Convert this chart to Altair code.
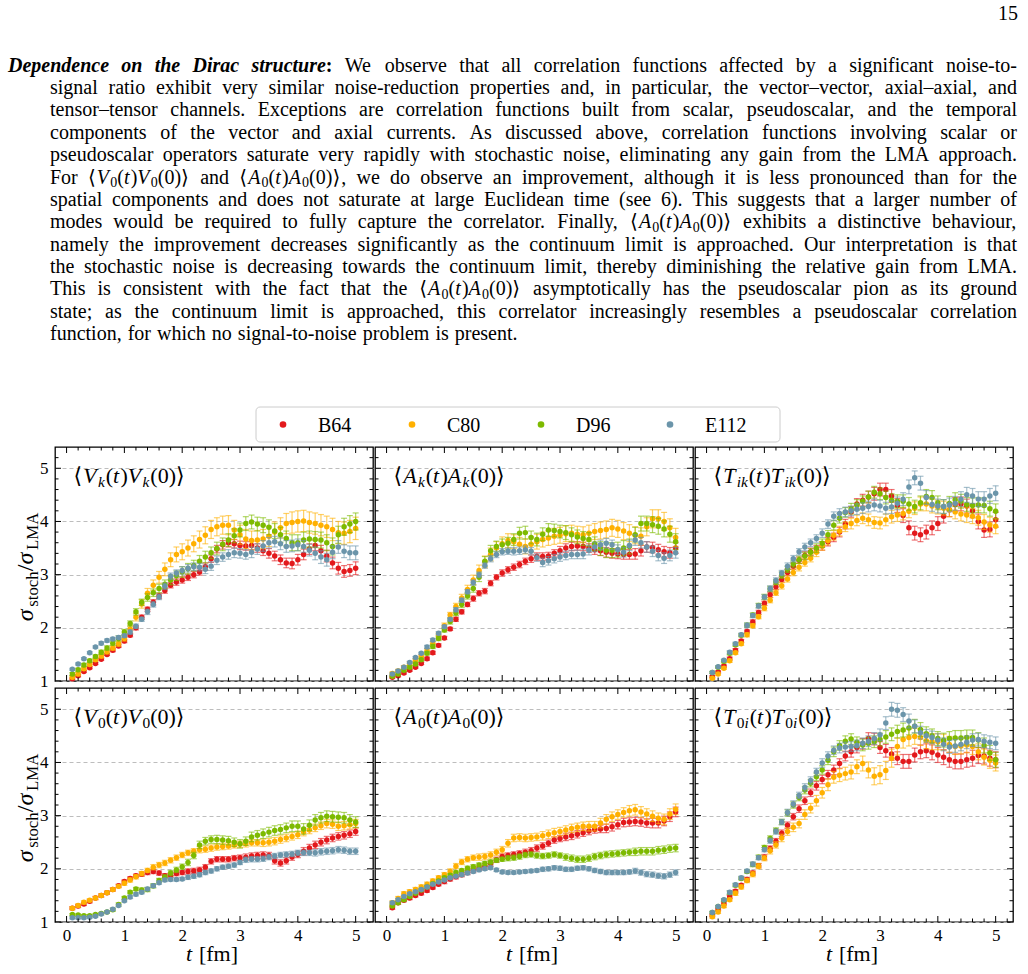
import altair as alt
import numpy as np
import pandas as pd

FONT = "Liberation Serif, DejaVu Serif, serif"

SERIES = ["B64", "C80", "D96", "E112"]
COLORS = ["#e3191c", "#ffb000", "#7dba00", "#6b95aa"]

# Euclidean time slices (fm)
T_FM = [round(0.1 * k, 1) for k in range(1, 51)]

# ---------------------------------------------------------------- ratios
VK_Y = {
    "B64": [1.04, 1.10, 1.18, 1.25, 1.33, 1.41, 1.50, 1.58, 1.66, 1.75, 1.86, 2.00, 2.20, 2.35, 2.48, 2.60, 2.70, 2.80, 2.86, 2.90,
            2.95, 3.00, 3.05, 3.15, 3.30, 3.48, 3.56, 3.60, 3.58, 3.55, 3.54, 3.55, 3.50, 3.45, 3.40, 3.35, 3.28, 3.22, 3.21, 3.28,
            3.38, 3.48, 3.55, 3.45, 3.35, 3.22, 3.12, 3.06, 3.08, 3.12],
    "C80": [1.07, 1.13, 1.23, 1.31, 1.40, 1.47, 1.55, 1.62, 1.70, 1.80, 1.98, 2.20, 2.45, 2.65, 2.80, 2.95, 3.10, 3.28, 3.38, 3.43,
            3.50, 3.58, 3.66, 3.74, 3.85, 3.90, 3.93, 3.93, 3.84, 3.75, 3.67, 3.64, 3.65, 3.67, 3.72, 3.80, 3.88, 3.96, 3.98, 4.00,
            4.01, 3.98, 3.96, 3.93, 3.90, 3.85, 3.79, 3.78, 3.81, 3.87],
    "D96": [1.13, 1.21, 1.30, 1.38, 1.46, 1.54, 1.62, 1.71, 1.80, 1.92, 2.08, 2.30, 2.48, 2.57, 2.66, 2.74, 2.82, 2.90, 2.98, 3.05,
            3.11, 3.17, 3.25, 3.33, 3.41, 3.49, 3.57, 3.65, 3.73, 3.84, 3.96, 3.99, 3.95, 3.93, 3.89, 3.82, 3.75, 3.68, 3.60, 3.60,
            3.65, 3.67, 3.66, 3.65, 3.60, 3.53, 3.75, 3.90, 3.95, 4.00],
    "E112": [1.22, 1.32, 1.42, 1.53, 1.64, 1.71, 1.76, 1.79, 1.82, 1.85, 1.92, 2.03, 2.16, 2.30, 2.44, 2.58, 2.78, 2.97, 3.03, 3.08,
             3.12, 3.15, 3.14, 3.10, 3.16, 3.27, 3.33, 3.38, 3.41, 3.40, 3.38, 3.42, 3.48, 3.54, 3.60, 3.62, 3.58, 3.53, 3.54, 3.56,
             3.53, 3.46, 3.40, 3.33, 3.28, 3.42, 3.52, 3.44, 3.41, 3.41],
}
AK_Y = {
    "B64": [1.07, 1.10, 1.15, 1.20, 1.26, 1.33, 1.42, 1.53, 1.67, 1.81, 1.98, 2.16, 2.30, 2.44, 2.55, 2.65, 2.69, 2.84, 2.95, 3.03,
            3.09, 3.14, 3.19, 3.25, 3.30, 3.34, 3.34, 3.35, 3.40, 3.45, 3.50, 3.53, 3.54, 3.53, 3.50, 3.47, 3.45, 3.42, 3.40, 3.39,
            3.38, 3.38, 3.39, 3.45, 3.52, 3.51, 3.47, 3.43, 3.41, 3.50],
    "C80": [1.14, 1.19, 1.26, 1.33, 1.39, 1.46, 1.57, 1.70, 1.86, 2.04, 2.24, 2.40, 2.56, 2.72, 2.90, 3.08, 3.24, 3.38, 3.50, 3.58,
            3.64, 3.62, 3.57, 3.53, 3.57, 3.62, 3.66, 3.69, 3.72, 3.74, 3.77, 3.78, 3.76, 3.75, 3.78, 3.81, 3.83, 3.85, 3.88, 3.86,
            3.82, 3.78, 3.74, 3.72, 3.90, 4.05, 4.05, 4.00, 3.88, 3.70],
    "D96": [1.09, 1.13, 1.20, 1.26, 1.32, 1.40, 1.52, 1.65, 1.80, 1.96, 2.12, 2.28, 2.44, 2.60, 2.74, 2.95, 3.25, 3.45, 3.53, 3.56,
            3.59, 3.66, 3.78, 3.79, 3.70, 3.66, 3.76, 3.84, 3.83, 3.81, 3.79, 3.75, 3.71, 3.68, 3.66, 3.58, 3.49, 3.46, 3.46, 3.47,
            3.50, 3.53, 3.75, 3.96, 3.96, 3.94, 3.91, 3.86, 3.76, 3.62],
    "E112": [1.13, 1.19, 1.26, 1.35, 1.44, 1.52, 1.64, 1.77, 1.90, 2.02, 2.16, 2.34, 2.52, 2.68, 2.85, 3.00, 3.17, 3.30, 3.38, 3.43,
             3.44, 3.44, 3.45, 3.47, 3.44, 3.32, 3.23, 3.26, 3.30, 3.33, 3.36, 3.38, 3.38, 3.39, 3.46, 3.52, 3.56, 3.59, 3.56, 3.47,
             3.42, 3.55, 3.65, 3.60, 3.52, 3.44, 3.36, 3.31, 3.36, 3.41],
}
TIK_Y = {
    "B64": [1.08, 1.17, 1.28, 1.42, 1.58, 1.75, 1.93, 2.11, 2.29, 2.46, 2.62, 2.77, 2.91, 3.04, 3.16, 3.27, 3.36, 3.43, 3.48, 3.54,
            3.62, 3.70, 3.80, 3.95, 4.18, 4.33, 4.40, 4.46, 4.52, 4.60, 4.60, 4.48, 4.30, 4.11, 3.88, 3.78, 3.75, 3.80, 3.88, 3.96,
            4.10, 4.22, 4.32, 4.33, 4.29, 4.20, 4.00, 3.84, 3.85, 4.03],
    "C80": [1.05, 1.13, 1.24, 1.38, 1.53, 1.70, 1.87, 2.04, 2.21, 2.37, 2.52, 2.66, 2.79, 2.92, 3.04, 3.14, 3.23, 3.31, 3.42, 3.54,
            3.64, 3.74, 3.82, 3.90, 3.96, 4.02, 4.06, 4.03, 3.98, 3.97, 4.03, 4.09, 4.12, 4.15, 4.19, 4.25, 4.33, 4.33, 4.29, 4.27,
            4.25, 4.22, 4.18, 4.14, 4.12, 4.10, 4.07, 3.99, 3.94, 3.91],
    "D96": [1.16, 1.26, 1.37, 1.52, 1.68, 1.86, 2.05, 2.24, 2.42, 2.58, 2.73, 2.86, 2.99, 3.10, 3.20, 3.28, 3.35, 3.42, 3.50, 3.59,
            3.75, 3.93, 4.06, 4.17, 4.24, 4.31, 4.38, 4.46, 4.55, 4.52, 4.45, 4.40, 4.38, 4.38, 4.33, 4.28, 4.35, 4.47, 4.45, 4.35,
            4.28, 4.34, 4.41, 4.38, 4.32, 4.30, 4.31, 4.30, 4.24, 4.19],
    "E112": [1.16, 1.27, 1.39, 1.54, 1.70, 1.87, 2.05, 2.23, 2.41, 2.58, 2.74, 2.89, 3.03, 3.16, 3.30, 3.43, 3.52, 3.60, 3.68, 3.78,
             3.95, 4.10, 4.15, 4.18, 4.20, 4.23, 4.25, 4.28, 4.31, 4.29, 4.25, 4.27, 4.34, 4.42, 4.65, 4.82, 4.72, 4.45, 4.32, 4.29,
             4.28, 4.31, 4.34, 4.42, 4.50, 4.48, 4.42, 4.42, 4.48, 4.53],
}
V0_Y = {
    "B64": [1.26, 1.30, 1.34, 1.39, 1.45, 1.50, 1.55, 1.61, 1.68, 1.76, 1.82, 1.87, 1.90, 1.93, 1.95, 1.92, 1.87, 1.88, 1.91, 1.93,
            1.95, 1.96, 1.98, 2.03, 2.14, 2.18, 2.18, 2.18, 2.20, 2.21, 2.22, 2.24, 2.25, 2.26, 2.25, 2.15, 2.11, 2.15, 2.22, 2.27,
            2.33, 2.39, 2.45, 2.50, 2.54, 2.58, 2.61, 2.63, 2.66, 2.70],
    "C80": [1.26, 1.31, 1.37, 1.41, 1.45, 1.50, 1.55, 1.61, 1.67, 1.73, 1.79, 1.85, 1.91, 1.97, 2.03, 2.07, 2.11, 2.16, 2.21, 2.26,
            2.30, 2.33, 2.36, 2.37, 2.39, 2.41, 2.42, 2.43, 2.45, 2.46, 2.47, 2.49, 2.49, 2.49, 2.50, 2.52, 2.55, 2.58, 2.61, 2.64,
            2.69, 2.73, 2.77, 2.81, 2.85, 2.84, 2.80, 2.81, 2.83, 2.85],
    "D96": [1.14, 1.13, 1.12, 1.12, 1.14, 1.16, 1.19, 1.23, 1.33, 1.45, 1.56, 1.62, 1.60, 1.61, 1.68, 1.78, 1.84, 1.92, 1.98, 2.04,
            2.12, 2.25, 2.45, 2.52, 2.55, 2.55, 2.54, 2.53, 2.50, 2.47, 2.52, 2.60, 2.63, 2.66, 2.69, 2.72, 2.74, 2.77, 2.80, 2.80,
            2.75, 2.82, 2.92, 2.96, 2.99, 2.98, 2.97, 2.96, 2.92, 2.88],
    "E112": [1.08, 1.08, 1.08, 1.09, 1.11, 1.15, 1.19, 1.24, 1.31, 1.40, 1.47, 1.52, 1.56, 1.62, 1.68, 1.74, 1.79, 1.80, 1.80, 1.81,
             1.84, 1.86, 1.89, 1.93, 1.96, 2.00, 2.03, 2.05, 2.07, 2.12, 2.17, 2.18, 2.18, 2.19, 2.22, 2.24, 2.26, 2.27, 2.28, 2.30,
             2.30, 2.30, 2.30, 2.32, 2.33, 2.34, 2.36, 2.35, 2.33, 2.33],
}
A0_Y = {
    "B64": [1.27, 1.36, 1.41, 1.45, 1.50, 1.54, 1.59, 1.65, 1.71, 1.76, 1.81, 1.85, 1.89, 1.93, 1.97, 2.01, 2.05, 2.10, 2.17, 2.23,
            2.25, 2.27, 2.29, 2.31, 2.34, 2.39, 2.43, 2.48, 2.54, 2.57, 2.60, 2.62, 2.65, 2.68, 2.71, 2.74, 2.75, 2.76, 2.79, 2.83,
            2.87, 2.88, 2.89, 2.88, 2.86, 2.86, 2.86, 2.90, 2.98, 3.07],
    "C80": [1.36, 1.44, 1.53, 1.57, 1.61, 1.66, 1.71, 1.77, 1.83, 1.89, 1.95, 2.05, 2.13, 2.18, 2.21, 2.22, 2.23, 2.26, 2.31, 2.36,
            2.48, 2.58, 2.59, 2.58, 2.59, 2.60, 2.62, 2.65, 2.68, 2.70, 2.73, 2.76, 2.78, 2.80, 2.80, 2.80, 2.86, 2.93, 2.98, 3.02,
            3.06, 3.09, 3.11, 3.07, 3.03, 2.99, 2.95, 2.93, 3.03, 3.12],
    "D96": [1.30, 1.36, 1.42, 1.48, 1.54, 1.60, 1.66, 1.72, 1.77, 1.83, 1.88, 1.93, 1.97, 2.01, 2.04, 2.07, 2.10, 2.13, 2.16, 2.18,
            2.20, 2.21, 2.23, 2.26, 2.27, 2.25, 2.24, 2.25, 2.27, 2.25, 2.22, 2.20, 2.18, 2.18, 2.20, 2.23, 2.25, 2.27, 2.28, 2.29,
            2.30, 2.31, 2.32, 2.33, 2.33, 2.33, 2.35, 2.36, 2.38, 2.39],
    "E112": [1.36, 1.42, 1.48, 1.53, 1.57, 1.61, 1.66, 1.71, 1.75, 1.79, 1.83, 1.86, 1.89, 1.92, 1.95, 1.98, 2.00, 2.02, 1.98, 1.94,
             1.93, 1.93, 1.94, 1.95, 1.96, 1.97, 1.99, 2.00, 2.02, 2.01, 1.99, 1.99, 2.01, 2.02, 2.00, 1.97, 1.95, 1.93, 1.93, 1.93,
             1.93, 1.94, 1.96, 1.93, 1.90, 1.89, 1.87, 1.86, 1.89, 1.93],
}
T0I_Y = {
    "B64": [1.12, 1.23, 1.35, 1.47, 1.58, 1.69, 1.80, 1.92, 2.06, 2.22, 2.38, 2.52, 2.67, 2.82, 2.98, 3.13, 3.28, 3.43, 3.56, 3.68,
            3.77, 3.86, 3.98, 4.12, 4.20, 4.28, 4.35, 4.45, 4.44, 4.28, 4.22, 4.16, 4.08, 4.02, 4.02, 4.14, 4.20, 4.22, 4.19, 4.14,
            4.10, 4.05, 4.02, 4.02, 4.05, 4.08, 4.13, 4.12, 4.08, 4.05],
    "C80": [1.10, 1.19, 1.30, 1.42, 1.54, 1.66, 1.78, 1.90, 2.05, 2.20, 2.34, 2.45, 2.58, 2.70, 2.78, 2.85, 3.02, 3.14, 3.28, 3.43,
            3.58, 3.72, 3.76, 3.79, 3.82, 3.92, 3.98, 3.86, 3.74, 3.77, 3.85, 4.08, 4.30, 4.43, 4.47, 4.49, 4.47, 4.41, 4.39, 4.39,
            4.38, 4.34, 4.30, 4.31, 4.33, 4.30, 4.20, 4.10, 4.04, 3.99],
    "D96": [1.18, 1.29, 1.41, 1.55, 1.69, 1.82, 1.95, 2.08, 2.22, 2.40, 2.57, 2.72, 2.88, 3.05, 3.20, 3.34, 3.48, 3.61, 3.73, 3.86,
            4.04, 4.20, 4.32, 4.40, 4.44, 4.38, 4.33, 4.36, 4.39, 4.43, 4.48, 4.53, 4.58, 4.61, 4.65, 4.68, 4.62, 4.54, 4.50, 4.45,
            4.42, 4.45, 4.46, 4.46, 4.47, 4.47, 4.42, 4.32, 4.18, 4.05],
    "E112": [1.18, 1.29, 1.42, 1.56, 1.70, 1.83, 1.96, 2.09, 2.21, 2.36, 2.53, 2.70, 2.88, 3.06, 3.22, 3.38, 3.53, 3.66, 3.82, 3.99,
             4.12, 4.23, 4.27, 4.29, 4.30, 4.32, 4.36, 4.40, 4.45, 4.52, 4.74, 5.00, 4.98, 4.90, 4.78, 4.68, 4.56, 4.50, 4.47, 4.42,
             4.34, 4.29, 4.31, 4.34, 4.38, 4.42, 4.43, 4.40, 4.38, 4.36],
}

# ------------------------------------------------ errors (units of 0.01)
VK_E = {
    "B64": [2, 2, 2, 2, 2, 2, 2, 3, 3, 3, 3, 4, 4, 4, 5, 5, 5, 5, 6, 6, 6, 6, 6, 7, 7, 7, 8, 8, 8, 8,
            8, 8, 8, 9, 9, 9, 9, 9, 10, 10, 10, 10, 10, 10, 11, 11, 11, 11, 11, 12],
    "C80": [3, 3, 3, 3, 3, 4, 4, 4, 5, 5, 6, 7, 8, 9, 10, 11, 12, 13, 14, 15, 15, 15, 16, 16, 17, 17, 17, 18, 18, 18,
            18, 18, 18, 18, 19, 19, 19, 19, 20, 20, 20, 20, 20, 20, 20, 21, 21, 21, 21, 21],
    "D96": [3, 3, 3, 3, 3, 4, 4, 4, 5, 5, 5, 6, 6, 7, 7, 8, 8, 9, 9, 10, 10, 10, 11, 11, 11, 12, 12, 12, 13, 13,
            13, 13, 13, 14, 14, 14, 14, 14, 15, 15, 15, 15, 15, 15, 15, 16, 16, 16, 16, 16],
    "E112": [2, 2, 2, 2, 2, 3, 3, 3, 3, 3, 4, 4, 4, 5, 5, 5, 6, 6, 6, 7, 7, 7, 7, 8, 8, 8, 8, 9, 9, 9,
             9, 10, 10, 10, 10, 10, 11, 11, 11, 11, 11, 11, 12, 12, 12, 12, 12, 12, 13, 13],
}
AK_E = {
    "B64": [2, 2, 2, 2, 2, 2, 3, 3, 3, 3, 3, 4, 4, 4, 5, 5, 5, 5, 5, 6, 6, 6, 6, 6, 7, 7, 7, 7, 7, 8,
            8, 8, 8, 8, 8, 9, 9, 9, 9, 9, 9, 9, 10, 10, 10, 10, 10, 10, 10, 10],
    "C80": [3, 3, 3, 3, 3, 3, 4, 4, 4, 5, 5, 6, 7, 8, 9, 10, 11, 12, 12, 13, 13, 13, 13, 14, 14, 14, 14, 14, 15, 15,
            15, 15, 15, 15, 15, 15, 16, 16, 16, 16, 16, 16, 16, 16, 17, 17, 17, 17, 17, 17],
    "D96": [2, 2, 2, 3, 3, 3, 3, 4, 4, 4, 5, 5, 6, 6, 7, 8, 9, 10, 10, 11, 11, 11, 11, 12, 12, 12, 12, 12, 12, 12,
            13, 13, 13, 13, 13, 13, 13, 14, 14, 14, 14, 14, 14, 14, 14, 15, 15, 15, 15, 15],
    "E112": [2, 2, 2, 2, 2, 2, 3, 3, 3, 3, 3, 4, 4, 4, 5, 5, 5, 6, 6, 6, 6, 7, 7, 7, 7, 7, 8, 8, 8, 8,
             8, 8, 8, 9, 9, 9, 9, 9, 9, 9, 9, 10, 10, 10, 10, 10, 10, 10, 10, 10],
}
TIK_E = {
    "B64": [2, 2, 2, 3, 3, 3, 3, 4, 4, 4, 5, 5, 5, 6, 6, 6, 7, 7, 7, 8, 8, 8, 9, 9, 10, 10, 11, 11, 12, 12,
            12, 12, 13, 13, 13, 13, 13, 13, 13, 13, 13, 13, 13, 13, 13, 13, 14, 14, 14, 14],
    "C80": [2, 2, 2, 3, 3, 3, 4, 4, 4, 5, 5, 5, 6, 6, 6, 7, 7, 7, 8, 8, 8, 9, 9, 9, 10, 10, 10, 11, 11, 11,
            11, 12, 12, 12, 12, 12, 13, 13, 13, 13, 13, 13, 13, 13, 14, 14, 14, 14, 14, 14],
    "D96": [2, 2, 3, 3, 3, 3, 4, 4, 4, 5, 5, 5, 6, 6, 6, 7, 7, 7, 8, 8, 8, 9, 9, 9, 10, 10, 10, 11, 11, 11,
            12, 12, 12, 12, 12, 12, 13, 13, 13, 13, 13, 13, 13, 13, 13, 14, 14, 14, 14, 14],
    "E112": [2, 2, 2, 3, 3, 3, 4, 4, 4, 4, 5, 5, 5, 6, 6, 6, 7, 7, 7, 8, 8, 8, 9, 9, 9, 10, 10, 10, 11, 11,
             11, 12, 12, 12, 13, 13, 13, 13, 13, 13, 13, 13, 13, 14, 14, 14, 14, 14, 14, 14],
}
V0_E = {
    "B64": [3, 3, 3, 3, 3, 3, 3, 3, 3, 3, 3, 3, 4, 4, 4, 4, 4, 4, 4, 4, 5, 5, 5, 5, 5, 5, 5, 5, 5, 5,
            6, 6, 6, 6, 6, 6, 6, 6, 6, 6, 7, 7, 7, 7, 7, 7, 7, 7, 7, 7],
    "C80": [3, 3, 3, 3, 3, 3, 3, 3, 3, 4, 4, 4, 4, 4, 5, 5, 5, 5, 5, 5, 5, 5, 6, 6, 6, 6, 6, 6, 6, 6,
            6, 6, 6, 7, 7, 7, 7, 7, 7, 7, 7, 7, 7, 7, 8, 8, 8, 8, 8, 8],
    "D96": [2, 2, 2, 2, 2, 2, 2, 3, 3, 3, 3, 3, 4, 4, 4, 4, 5, 5, 5, 5, 6, 6, 7, 7, 7, 8, 8, 8, 8, 8,
            8, 9, 9, 9, 9, 9, 9, 9, 10, 10, 10, 10, 10, 10, 10, 10, 10, 10, 10, 10],
    "E112": [2, 2, 2, 2, 2, 2, 2, 2, 2, 2, 3, 3, 3, 3, 3, 3, 3, 3, 3, 3, 4, 4, 4, 4, 4, 4, 4, 4, 4, 4,
             5, 5, 5, 5, 5, 5, 5, 5, 5, 5, 5, 5, 6, 6, 6, 6, 6, 6, 6, 6],
}
A0_E = {
    "B64": [3, 3, 3, 3, 3, 3, 3, 3, 3, 4, 4, 4, 4, 4, 4, 4, 5, 5, 5, 5, 5, 5, 5, 6, 6, 6, 6, 6, 6, 6,
            7, 7, 7, 7, 7, 7, 7, 8, 8, 8, 8, 8, 8, 8, 8, 9, 9, 9, 9, 9],
    "C80": [4, 4, 4, 4, 4, 4, 4, 4, 4, 4, 5, 5, 5, 5, 5, 6, 6, 6, 6, 6, 7, 7, 7, 7, 7, 7, 8, 8, 8, 8,
            8, 8, 8, 8, 9, 9, 9, 9, 9, 9, 9, 10, 10, 10, 10, 10, 10, 10, 10, 10],
    "D96": [2, 2, 2, 2, 2, 2, 3, 3, 3, 3, 3, 3, 3, 4, 4, 4, 4, 4, 4, 4, 5, 5, 5, 5, 5, 5, 5, 5, 5, 5,
            6, 6, 6, 6, 6, 6, 6, 6, 6, 6, 6, 6, 7, 7, 7, 7, 7, 7, 7, 7],
    "E112": [2, 2, 2, 2, 2, 2, 2, 2, 2, 2, 2, 2, 3, 3, 3, 3, 3, 3, 3, 3, 3, 3, 3, 3, 3, 3, 4, 4, 4, 4,
             4, 4, 4, 4, 4, 4, 4, 4, 4, 4, 4, 4, 5, 5, 5, 5, 5, 5, 5, 5],
}
T0I_E = {
    "B64": [2, 2, 3, 3, 3, 3, 4, 4, 4, 5, 5, 5, 6, 6, 6, 7, 7, 7, 8, 8, 8, 9, 9, 9, 10, 10, 10, 11, 11, 11,
            12, 12, 12, 13, 13, 13, 13, 13, 14, 14, 14, 14, 14, 14, 14, 15, 15, 15, 15, 15],
    "C80": [3, 3, 3, 3, 4, 4, 4, 5, 5, 5, 6, 6, 7, 7, 8, 8, 9, 9, 10, 10, 11, 11, 12, 12, 13, 13, 14, 15, 16, 17,
            17, 17, 16, 16, 16, 15, 15, 15, 15, 15, 15, 15, 15, 15, 15, 15, 15, 15, 15, 15],
    "D96": [2, 2, 2, 3, 3, 3, 3, 4, 4, 4, 5, 5, 5, 6, 6, 6, 7, 7, 7, 8, 8, 9, 9, 10, 10, 10, 11, 11, 11, 12,
            12, 12, 12, 13, 13, 13, 13, 13, 13, 13, 13, 13, 14, 14, 14, 14, 14, 14, 14, 14],
    "E112": [2, 2, 2, 3, 3, 3, 3, 4, 4, 4, 5, 5, 5, 6, 6, 6, 7, 7, 7, 8, 8, 8, 9, 9, 9, 10, 10, 10, 11, 11,
             12, 13, 13, 13, 13, 12, 12, 12, 12, 12, 12, 12, 12, 12, 12, 12, 12, 12, 12, 12],
}

PARAGRAPH = [
    "Dependence on the Dirac structure: We observe that all correlation functions affected by a significant noise-to-",
    "signal ratio exhibit very similar noise-reduction properties and, in particular, the vector–vector, axial–axial, and",
    "tensor–tensor channels. Exceptions are correlation functions built from scalar, pseudoscalar, and the temporal",
    "components of the vector and axial currents. As discussed above, correlation functions involving scalar or",
    "pseudoscalar operators saturate very rapidly with stochastic noise, eliminating any gain from the LMA approach.",
    "For <V0> and <A0>, we do observe an improvement, although it is less pronounced than for the",
    "spatial components and does not saturate at large Euclidean time (see 6). This suggests that a larger number of",
    "modes would be required to fully capture the correlator. Finally, <A0> exhibits a distinctive behaviour,",
    "namely the improvement decreases significantly as the continuum limit is approached. Our interpretation is that",
    "the stochastic noise is decreasing towards the continuum limit, thereby diminishing the relative gain from LMA.",
    "This is consistent with the fact that the <A0> asymptotically has the pseudoscalar pion as its ground",
    "state; as the continuum limit is approached, this correlator increasingly resembles a pseudoscalar correlation",
    "function, for which no signal-to-noise problem is present.",
]
LEAD_WORDS = 5
PAGE_NUMBER = "15"

for d in (VK_Y, AK_Y, TIK_Y, V0_Y, A0_Y, T0I_Y, VK_E, AK_E, TIK_E, V0_E, A0_E, T0I_E):
    for k in SERIES:
        assert len(d[k]) == len(T_FM), k

# ------------------------------------------------------------ typesetting
LOW = "abcdefghijklmnopqrstuvwxyz"
UP = "ABCDEFGHIJKLMNOPQRSTUVWXYZ"
PUNCT = {" ": 250, ",": 250, ".": 250, ":": 278, ";": 278, "-": 333, "–": 500, "(": 333, ")": 333,
         "[": 333, "]": 333, "/": 278, "⟨": 440, "⟩": 440, "σ": 550}
for dgt in "0123456789":
    PUNCT[dgt] = 500


def _table(low, up, extra=None):
    t = dict(PUNCT)
    t.update(zip(LOW, low))
    t.update(zip(UP, up))
    if extra:
        t.update(extra)
    return t


ROMAN = _table([444, 500, 444, 500, 444, 333, 500, 500, 278, 278, 500, 278, 778, 500, 500, 500, 500, 333, 389, 278, 500, 500, 722, 500, 500, 444],
               [722, 667, 667, 722, 611, 556, 722, 722, 333, 389, 722, 611, 889, 722, 722, 556, 722, 667, 556, 611, 722, 722, 944, 722, 722, 611])
ITALIC = _table([500, 500, 444, 500, 444, 278, 500, 500, 278, 278, 444, 278, 722, 500, 500, 500, 500, 389, 389, 278, 500, 444, 667, 444, 444, 389],
                [611, 611, 667, 722, 611, 611, 722, 722, 333, 444, 667, 556, 833, 667, 722, 611, 722, 611, 500, 556, 722, 611, 833, 611, 556, 556])
BOLDITALIC = _table([500, 500, 444, 500, 444, 333, 500, 556, 278, 278, 500, 278, 778, 556, 500, 500, 500, 389, 389, 278, 556, 444, 667, 500, 444, 389],
                    [667, 667, 667, 722, 667, 667, 722, 778, 389, 500, 667, 611, 889, 722, 722, 611, 722, 667, 556, 611, 722, 667, 889, 667, 611, 611],
                    {":": 333})
BOLD = dict(ROMAN, **{":": 333})
WIDTHS = {"r": ROMAN, "i": ITALIC, "bi": BOLDITALIC, "b": BOLD, "sub": ROMAN, "subi": ITALIC}
STYLE_PROPS = {"r": ("normal", "normal"), "i": ("italic", "normal"), "bi": ("italic", "bold"),
               "b": ("normal", "bold"), "sub": ("normal", "normal"), "subi": ("italic", "normal")}
SUB_SCALE = 0.7
ITALIC_CORR = 0.06  # extra advance after an italic math glyph (em)


def text_width(text, style, fs):
    scale = SUB_SCALE if style.startswith("sub") else 1.0
    w = sum(WIDTHS[style].get(ch, 500) for ch in text) / 1000.0 * fs * scale
    if style in ("i", "subi"):
        w += ITALIC_CORR * fs * scale
    return w


def runs_width(runs, fs):
    return sum(text_width(t, s, fs) for t, s in runs)


def corr(op, sub):
    return ([("⟨", "r"), (op, "i")] + sub + [("(", "r"), ("t", "i"), (")", "r"), (op, "i")]
            + sub + [("(0)", "r"), ("⟩", "r")])


def place(runs, x0, y0, fs, drop=0.2):
    rows, x = [], x0
    for text, style in runs:
        is_sub = style.startswith("sub")
        rows.append({"x": round(x, 2), "y": round(y0 + (drop * fs if is_sub else 0.0), 2), "s": text,
                     "style": style, "size": round(fs * SUB_SCALE if is_sub else fs, 2)})
        x += text_width(text, style, fs)
    return rows


def place_vertical(runs, xb, yc, fs, drop=0.22):
    rows = []
    y = yc + runs_width(runs, fs) / 2.0
    for text, style in runs:
        is_sub = style.startswith("sub")
        rows.append({"x": round(xb + (drop * fs if is_sub else 0.0), 2), "y": round(y, 2), "s": text,
                     "style": style, "size": round(fs * SUB_SCALE if is_sub else fs, 2)})
        y -= text_width(text, style, fs)
    return rows


DUMMY = pd.DataFrame({"k": [0]})


def value_text_layers(rows, angle=None):
    out = []
    for r in rows:
        if not r["s"].strip():
            continue
        st, wt = STYLE_PROPS[r["style"]]
        kw = dict(text=r["s"], font=FONT, fontSize=r["size"], fontStyle=st, fontWeight=wt,
                  align="left", baseline="alphabetic", color="black")
        if angle is not None:
            kw["angle"] = angle
        out.append(alt.Chart(DUMMY).mark_text(**kw).encode(x=alt.value(r["x"]), y=alt.value(r["y"])))
    return out


# ------------------------------------------------------------------ panels
W, H = 318, 234
XDOM, YDOM = [-0.2, 5.3], [1.0, 5.4]
X_MAJOR = [0, 1, 2, 3, 4, 5]
X_MINOR = [round(0.2 * k, 1) for k in range(1, 27) if k % 5]
Y_MAJOR = [1, 2, 3, 4, 5]
Y_MINOR = [round(1 + 0.2 * k, 1) for k in range(1, 22) if k % 5]

YTITLE = [("σ", "i"), ("stoch", "sub"), ("/", "r"), ("σ", "i"), ("LMA", "sub")]
XTITLE = [("t", "i"), (" ", "r"), ("[fm]", "r")]

COLOR_SCALE = alt.Scale(domain=SERIES, range=COLORS)


def panel(label_runs, ydata, edata, left, bottom):
    xs = alt.Scale(domain=XDOM, nice=False, zero=False)
    ys = alt.Scale(domain=YDOM, nice=False, zero=False)
    xax = alt.Axis(values=X_MAJOR, labels=bottom, ticks=False, domain=False, grid=False, title=None,
                   labelFont=FONT, labelFontSize=17, labelColor="black", labelPadding=5)
    yax = alt.Axis(values=Y_MAJOR, labels=left, ticks=False, domain=False, grid=True, gridColor="#b5b5b5",
                   gridDash=[4, 3], gridWidth=0.9, title=None, labelFont=FONT, labelFontSize=17,
                   labelColor="black", labelPadding=7)

    def X(f):
        return alt.X(f, scale=xs, axis=xax)

    def Y(f):
        return alt.Y(f, scale=ys, axis=yax)

    layers = []
    for name, color in zip(SERIES, COLORS):
        y = np.array(ydata[name])
        e = np.array(edata[name]) / 100.0
        df = pd.DataFrame({"t": T_FM, "y": y, "lo": y - e, "hi": y + e})
        base = alt.Chart(df)
        layers += [
            base.mark_rule(color=color, strokeWidth=1.2, opacity=0.6).encode(x=X("t:Q"), y=Y("lo:Q"), y2="hi:Q"),
            base.mark_tick(color=color, orient="horizontal", size=6, thickness=1.2, opacity=0.6).encode(x=X("t:Q"), y=Y("lo:Q")),
            base.mark_tick(color=color, orient="horizontal", size=6, thickness=1.2, opacity=0.6).encode(x=X("t:Q"), y=Y("hi:Q")),
            base.mark_circle(color=color, size=30, opacity=1).encode(x=X("t:Q"), y=Y("y:Q")),
        ]

    # inward ticks on all four sides
    for vals, L in ((X_MAJOR, 6), (X_MINOR, 3.5)):
        d = alt.Chart(pd.DataFrame({"v": vals}))
        layers.append(d.mark_rule(color="black", strokeWidth=1).encode(x=X("v:Q"), y=alt.value(H), y2=alt.value(H - L)))
        layers.append(d.mark_rule(color="black", strokeWidth=1).encode(x=X("v:Q"), y=alt.value(0), y2=alt.value(L)))
    for vals, L in ((Y_MAJOR, 6), (Y_MINOR, 3.5)):
        d = alt.Chart(pd.DataFrame({"v": vals}))
        layers.append(d.mark_rule(color="black", strokeWidth=1).encode(y=Y("v:Q"), x=alt.value(0), x2=alt.value(L)))
        layers.append(d.mark_rule(color="black", strokeWidth=1).encode(y=Y("v:Q"), x=alt.value(W), x2=alt.value(W - L)))

    layers += value_text_layers(place(label_runs, 18.5, 35.5, 22, drop=0.22))
    if left:
        layers += value_text_layers(place_vertical(YTITLE, -22, H / 2 + 3, 24), angle=270)
    if bottom:
        xw = runs_width(XTITLE, 22)
        layers += value_text_layers(place(XTITLE, W / 2 - xw / 2 - 2, H + 39, 22))
    return alt.layer(*layers).properties(width=W, height=H)


p_vk = panel(corr("V", [("k", "subi")]), VK_Y, VK_E, True, False)
p_ak = panel(corr("A", [("k", "subi")]), AK_Y, AK_E, False, False)
p_tik = panel(corr("T", [("ik", "subi")]), TIK_Y, TIK_E, False, False)
p_v0 = panel(corr("V", [("0", "sub")]), V0_Y, V0_E, True, True)
p_a0 = panel(corr("A", [("0", "sub")]), A0_Y, A0_E, False, True)
p_t0i = panel(corr("T", [("0", "sub"), ("i", "subi")]), T0I_Y, T0I_E, False, True)

# ------------------------------------------------------------ text block
OX = 55  # page x of the first panel's left edge
TW, TH = 1018 - OX, 440


def word_runs(word, style):
    if word.startswith("<"):
        j = word.index(">")
        runs = corr(word[1], [(word[2:j], "sub")])
        if word[j + 1:]:
            runs.append((word[j + 1:], "r"))
        return runs
    return [(word, style)]


lines = []
for i, line in enumerate(PARAGRAPH):
    wr = []
    for k, w in enumerate(line.split()):
        if i == 0 and k < LEAD_WORDS:
            wr.append([(w[:-1], "bi"), (":", "b")] if w.endswith(":") else [(w, "bi")])
        else:
            wr.append(word_runs(w, "r"))
    lines.append(wr)

LEFT0, LEFT, RIGHT = 8, 50, 1017
fs_text = 20.0
for i, wr in enumerate(lines[:-1]):
    target = RIGHT - (LEFT0 if i == 0 else LEFT)
    em = sum(runs_width(r, 1.0) for r in wr)
    fs_text = min(fs_text, target / (em + 0.2 * (len(wr) - 1)))

rows = []
for i, wr in enumerate(lines):
    x0 = (LEFT0 if i == 0 else LEFT) - OX
    target = RIGHT - (LEFT0 if i == 0 else LEFT)
    widths = [runs_width(r, fs_text) for r in wr]
    if i < len(lines) - 1:
        gap = (target - sum(widths)) / (len(wr) - 1)
    else:
        gap = 0.3 * fs_text
    baseline = 71.7 + 22.36 * i
    x = x0
    for r, w in zip(wr, widths):
        rows += place(r, x, baseline, fs_text, drop=0.18)
        x += w + gap

text_df = pd.DataFrame(rows)
text_layers = []

# legend: frame, coloured dots (through the shared colour scale) and names
LEG_LEFT, LEG_RIGHT, LEG_TOP, LEG_BOTTOM = 256, 780, 407, 442
LEG_FIRST, LEG_STRIDE, LEG_GAP = 283, 129, 35
leg_df = pd.DataFrame({
    "series": SERIES,
    "dx": [LEG_FIRST - OX + LEG_STRIDE * k for k in range(len(SERIES))],
    "lx": [LEG_FIRST - OX + LEG_STRIDE * k + LEG_GAP for k in range(len(SERIES))],
})
leg_mid = (LEG_TOP + LEG_BOTTOM) / 2
text_layers.append(
    alt.Chart(DUMMY).mark_rect(fill="white", stroke="#cccccc", strokeWidth=1, cornerRadius=4).encode(
        x=alt.value(LEG_LEFT - OX), x2=alt.value(LEG_RIGHT - OX), y=alt.value(LEG_TOP), y2=alt.value(LEG_BOTTOM)))
text_layers.append(
    alt.Chart(leg_df).mark_circle(size=44, opacity=1).encode(
        x=alt.X("dx:Q", scale=None, axis=None), y=alt.value(leg_mid),
        color=alt.Color("series:N", scale=COLOR_SCALE, legend=None)))
text_layers.append(
    alt.Chart(leg_df).mark_text(align="left", baseline="middle", font=FONT, fontSize=20, color="black").encode(
        x=alt.X("lx:Q", scale=None, axis=None), y=alt.value(leg_mid + 1), text="series:N"))

for (style, size), grp in text_df.groupby(["style", "size"]):
    st, wt = STYLE_PROPS[style]
    text_layers.append(
        alt.Chart(grp[["x", "y", "s"]]).mark_text(align="left", baseline="alphabetic", font=FONT, fontSize=size,
                                                 fontStyle=st, fontWeight=wt, color="black").encode(
            x=alt.X("x:Q", scale=None, axis=None), y=alt.Y("y:Q", scale=None, axis=None), text="s:N"))

text_layers.append(
    alt.Chart(DUMMY).mark_text(text=PAGE_NUMBER, align="right", baseline="alphabetic", font=FONT,
                               fontSize=fs_text, color="black").encode(x=alt.value(1018 - OX), y=alt.value(20)))

# invisible anchor pinning the page's top-left corner
text_layers.append(
    alt.Chart(DUMMY).mark_point(filled=True, opacity=0, size=4).encode(x=alt.value(-OX + 1), y=alt.value(1)))

text_block = alt.layer(*text_layers).properties(width=TW, height=TH, view=alt.ViewBackground(strokeOpacity=0))

grid = alt.concat(p_vk, p_ak, p_tik, p_v0, p_a0, p_t0i, columns=3,
                  spacing={"row": 7, "column": 2}, bounds="flush")

chart = alt.vconcat(text_block, grid, spacing=7, bounds="flush").properties(
    padding=0, background="white"
).configure_view(stroke="black", strokeWidth=1.3)

chart.save("out.html", embed_options={"renderer": "svg", "actions": False})
